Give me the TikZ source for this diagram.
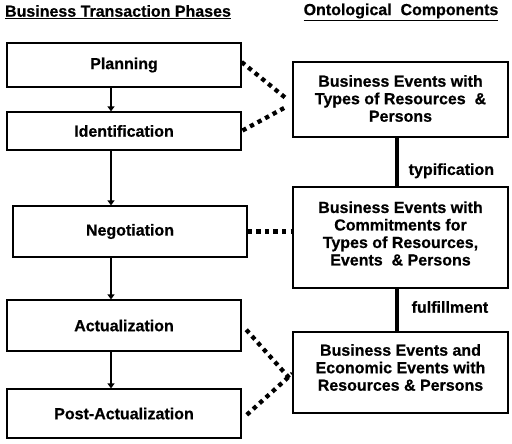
\documentclass[tikz,border=0pt]{standalone}
\usepackage{fontspec}
\setmainfont{Liberation Sans}[BoldFeatures={FakeBold=0.6}]
\usetikzlibrary{arrows.meta}
\tikzset{
  phase/.style={draw=black, line width=1.2pt, fill=white, minimum width=234pt, inner sep=0pt,
     font=\bfseries\fontsize{16}{17.5}\selectfont},
  comp/.style={draw=black, line width=1.2pt, fill=white, minimum width=215pt, inner sep=0pt},
  ctext/.style={align=center, inner sep=0pt, font=\bfseries\fontsize{16}{17.5}\selectfont},
  title/.style={inner sep=0pt, font=\bfseries\fontsize{16}{18}\selectfont},
  flowarr/.style={line width=2.5pt, -{Triangle[length=5pt,width=7pt]}},
  dotline/.style={line width=4.3pt, dash pattern=on 4.3pt off 4.3pt},
  rel/.style={line width=3.4pt},
  rellabel/.style={inner sep=0pt, anchor=west, font=\bfseries\fontsize{16}{18}\selectfont}
}
\begin{document}
\begin{tikzpicture}[x=1pt,y=-1pt]
\useasboundingbox (0,0) rectangle (512,444);
% titles
\node[title] (t1) at (118,12) {\underline{Business Transaction Phases}};
\node[title] (t2) at (401,12) {\underline{Ontological\ \ Components}};
% phase boxes
\node[phase, minimum height=44pt] (p1) at (124,65) {Planning};
\node[phase, minimum height=38pt] (p2) at (124,131) {Identification};
\node[phase, minimum height=51pt] (p3) at (130,231.5) {Negotiation};
\node[phase, minimum height=51pt] (p4) at (124,325.5) {Actualization};
\node[phase, minimum height=49pt] (p5) at (124,413.5) {Post-Actualization};
% component boxes
\node[comp, minimum height=75pt] (b1) at (400.5,99.5) {};
\node[ctext] (b1t) at ([yshift=1pt]b1.center) {Business Events with\\Types of Resources\ \ \&\\Persons};
\node[comp, minimum height=101pt] (b2) at (400.5,237.5) {};
\node[ctext] (b2t) at ([yshift=4pt]b2.center) {Business Events with\\Commitments for\\Types of Resources,\\Events\ \ \& Persons};
\node[comp, minimum height=81pt] (b3) at (400.5,372.5) {};
\node[ctext] (b3t) at ([yshift=5pt]b3.center) {Business Events and\\Economic Events with\\Resources \& Persons};
% helper x positions
\coordinate (ax) at (111,0);
\coordinate (rx) at (397,0);
% phase flow arrows
\draw[flowarr] (p1.south -| ax) -- (p2.north -| ax);
\draw[flowarr] (p2.south -| ax) -- (p3.north -| ax);
\draw[flowarr] (p3.south -| ax) -- (p4.north -| ax);
\draw[flowarr] (p4.south -| ax) -- (p5.north -| ax);
% relations between components
\draw[rel] (b1.south -| rx) -- node[rellabel, pos=0.68, xshift=10pt] (l1) {typification} (b2.north -| rx);
\draw[rel] (b2.south -| rx) -- node[rellabel, pos=0.43, xshift=13pt] (l2) {fulfillment} (b3.north -| rx);
% dotted links
\draw[dotline, shorten >=9pt] ([yshift=3pt]p1.east) -- ([yshift=-4pt]b1.west);
\draw[dotline, shorten >=7pt, shorten <=1pt] (p2.east) -- ([yshift=-4pt]b1.west);
\draw[dotline] (p3.east) -- (p3.east -| b2.west);
\draw[dotline, shorten <=7pt, shorten >=3pt] ([yshift=1pt]p4.east) -- ([yshift=-9pt]b3.west);
\draw[dotline, shorten <=7pt] ([yshift=-6pt]p5.east) -- ([yshift=-1pt]b3.west);
\end{tikzpicture}
\end{document}
